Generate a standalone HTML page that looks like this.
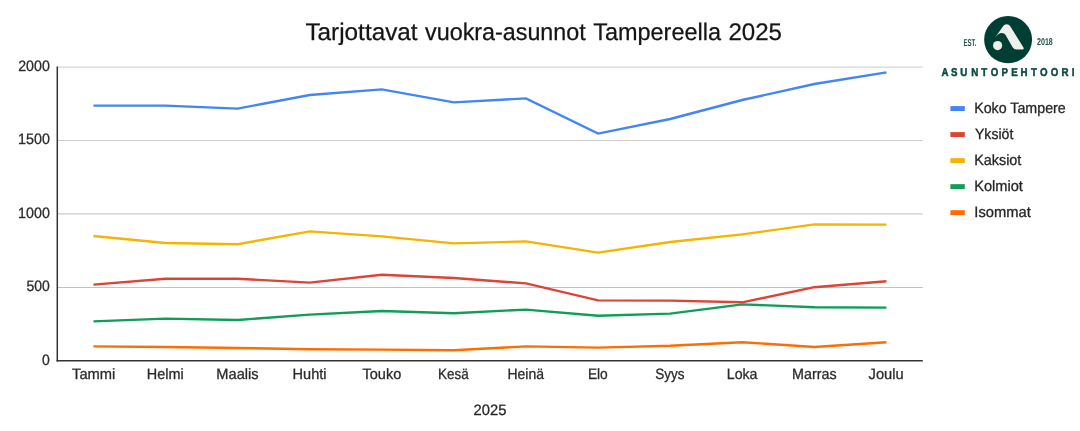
<!DOCTYPE html>
<html lang="fi">
<head>
<meta charset="utf-8">
<title>Tarjottavat vuokra-asunnot Tampereella 2025</title>
<style>
html,body{margin:0;padding:0;background:#fff;}
body{width:1080px;height:431px;overflow:hidden;}
svg{display:block;}
text{font-family:"Liberation Sans",sans-serif;text-rendering:geometricPrecision;}
</style>
</head>
<body>
<svg width="1080" height="431" viewBox="0 0 1080 431">
<rect x="0" y="0" width="1080" height="431" fill="#ffffff"/>
<g stroke="#cccccc" stroke-width="1.2">
<line x1="57.4" y1="67.05" x2="922.8" y2="67.05" stroke="#d6d6d6"/>
<line x1="57.4" y1="140.50" x2="922.8" y2="140.50"/>
<line x1="57.4" y1="213.90" x2="922.8" y2="213.90"/>
<line x1="57.4" y1="287.5" x2="922.8" y2="287.5" stroke="#c2c2c2" stroke-width="1"/>
</g>
<g fill="none" stroke-width="2.4" stroke-linejoin="miter">
<polyline stroke="#4285f4" points="93.45,105.60 165.54,105.60 237.63,108.60 309.72,95.00 381.81,89.40 453.90,102.40 526.00,98.40 598.09,133.60 670.18,119.00 742.27,100.00 814.36,84.00 886.45,72.40"/>
<polyline stroke="#db4437" points="93.45,284.60 165.54,278.80 237.63,278.80 309.72,282.60 381.81,274.80 453.90,278.00 526.00,283.40 598.09,300.40 670.18,300.60 742.27,302.30 814.36,287.20 886.45,281.20"/>
<polyline stroke="#f4b400" points="93.45,236.00 165.54,243.00 237.63,244.20 309.72,231.40 381.81,236.40 453.90,243.40 526.00,241.40 598.09,252.60 670.18,242.00 742.27,234.40 814.36,224.40 886.45,224.60"/>
<polyline stroke="#0f9d58" points="93.45,321.40 165.54,318.60 237.63,320.00 309.72,314.60 381.81,311.00 453.90,313.20 526.00,309.60 598.09,315.80 670.18,313.60 742.27,304.40 814.36,307.20 886.45,307.60"/>
<polyline stroke="#ff6d00" points="93.45,346.40 165.54,347.00 237.63,348.00 309.72,349.20 381.81,349.60 453.90,350.20 526.00,346.40 598.09,347.60 670.18,345.80 742.27,342.20 814.36,347.00 886.45,342.20"/>
</g>
<g stroke="#333333" stroke-width="1.5">
<line x1="57.30" y1="66.50" x2="57.30" y2="361.50"/>
<line x1="56.55" y1="360.75" x2="922.80" y2="360.75"/>
</g>
<text transform="translate(305.46 39.60) scale(1.0124 1)" font-size="24.0" font-weight="normal" fill="#151515" stroke="#151515" stroke-width="0.25">Tarjottavat</text>
<text transform="translate(425.00 39.60) scale(0.9726 1)" font-size="24.0" font-weight="normal" fill="#151515" stroke="#151515" stroke-width="0.25">vuokra-</text>
<text transform="translate(502.79 39.60) scale(0.9704 1)" font-size="24.0" font-weight="normal" fill="#151515" stroke="#151515" stroke-width="0.25">asunnot</text>
<text transform="translate(593.17 39.60) scale(0.9778 1)" font-size="24.0" font-weight="normal" fill="#151515" stroke="#151515" stroke-width="0.25">Tampereella</text>
<text transform="translate(728.40 39.60) scale(1.0039 1)" font-size="24.0" font-weight="normal" fill="#151515" stroke="#151515" stroke-width="0.25">2025</text>
<text transform="translate(18.17 71.00) scale(0.9495 1)" font-size="15.0" font-weight="normal" fill="#2b2b2b" stroke="#2b2b2b" stroke-width="0.3">2000</text>
<text transform="translate(18.05 143.80) scale(0.9531 1)" font-size="15.0" font-weight="normal" fill="#2b2b2b" stroke="#2b2b2b" stroke-width="0.3">1500</text>
<text transform="translate(18.05 217.70) scale(0.9531 1)" font-size="15.0" font-weight="normal" fill="#2b2b2b" stroke="#2b2b2b" stroke-width="0.3">1000</text>
<text transform="translate(26.53 291.40) scale(0.9310 1)" font-size="15.0" font-weight="normal" fill="#2b2b2b" stroke="#2b2b2b" stroke-width="0.3">500</text>
<text transform="translate(42.03 364.80) scale(0.9333 1)" font-size="15.0" font-weight="normal" fill="#2b2b2b" stroke="#2b2b2b" stroke-width="0.3">0</text>
<text transform="translate(72.04 378.90) scale(0.9799 1)" font-size="15.0" font-weight="normal" fill="#2b2b2b" stroke="#2b2b2b" stroke-width="0.3">Tammi</text>
<text transform="translate(146.84 378.90) scale(0.9616 1)" font-size="15.0" font-weight="normal" fill="#2b2b2b" stroke="#2b2b2b" stroke-width="0.3">Helmi</text>
<text transform="translate(216.33 378.90) scale(0.9750 1)" font-size="15.0" font-weight="normal" fill="#2b2b2b" stroke="#2b2b2b" stroke-width="0.3">Maalis</text>
<text transform="translate(292.53 378.90) scale(0.9709 1)" font-size="15.0" font-weight="normal" fill="#2b2b2b" stroke="#2b2b2b" stroke-width="0.3">Huhti</text>
<text transform="translate(362.54 378.90) scale(0.9674 1)" font-size="15.0" font-weight="normal" fill="#2b2b2b" stroke="#2b2b2b" stroke-width="0.3">Touko</text>
<text transform="translate(438.05 378.90) scale(0.8985 1)" font-size="15.0" font-weight="normal" fill="#2b2b2b" stroke="#2b2b2b" stroke-width="0.3">Kesä</text>
<text transform="translate(507.42 378.90) scale(0.9326 1)" font-size="15.0" font-weight="normal" fill="#2b2b2b" stroke="#2b2b2b" stroke-width="0.3">Heinä</text>
<text transform="translate(587.88 378.90) scale(0.9174 1)" font-size="15.0" font-weight="normal" fill="#2b2b2b" stroke="#2b2b2b" stroke-width="0.3">Elo</text>
<text transform="translate(655.25 378.90) scale(0.9032 1)" font-size="15.0" font-weight="normal" fill="#2b2b2b" stroke="#2b2b2b" stroke-width="0.3">Syys</text>
<text transform="translate(726.76 378.90) scale(0.9442 1)" font-size="15.0" font-weight="normal" fill="#2b2b2b" stroke="#2b2b2b" stroke-width="0.3">Loka</text>
<text transform="translate(792.05 378.90) scale(0.9540 1)" font-size="15.0" font-weight="normal" fill="#2b2b2b" stroke="#2b2b2b" stroke-width="0.3">Marras</text>
<text transform="translate(868.60 378.90) scale(0.9786 1)" font-size="15.0" font-weight="normal" fill="#2b2b2b" stroke="#2b2b2b" stroke-width="0.3">Joulu</text>
<text transform="translate(473.55 415.00) scale(0.9824 1)" font-size="15.0" font-weight="normal" fill="#262626" stroke="#262626" stroke-width="0.3">2025</text>
<text transform="translate(974.15 112.50) scale(0.9495 1)" font-size="15.0" font-weight="normal" fill="#262626" stroke="#262626" stroke-width="0.3">Koko Tampere</text>
<text transform="translate(974.94 138.60) scale(0.9393 1)" font-size="15.0" font-weight="normal" fill="#262626" stroke="#262626" stroke-width="0.3">Yksiöt</text>
<text transform="translate(974.14 164.60) scale(0.9600 1)" font-size="15.0" font-weight="normal" fill="#262626" stroke="#262626" stroke-width="0.3">Kaksiot</text>
<text transform="translate(974.13 190.70) scale(0.9745 1)" font-size="15.0" font-weight="normal" fill="#262626" stroke="#262626" stroke-width="0.3">Kolmiot</text>
<text transform="translate(974.35 216.60) scale(0.9817 1)" font-size="15.0" font-weight="normal" fill="#262626" stroke="#262626" stroke-width="0.3">Isommat</text>
<rect x="950.4" y="106.10" width="14.4" height="4.9" fill="#4285f4"/>
<rect x="950.4" y="132.12" width="14.4" height="4.9" fill="#db4437"/>
<rect x="950.4" y="158.14" width="14.4" height="4.9" fill="#f4b400"/>
<rect x="950.4" y="184.16" width="14.4" height="4.9" fill="#0f9d58"/>
<rect x="950.4" y="210.18" width="14.4" height="4.9" fill="#ff6d00"/>
<g id="logo" text-rendering="geometricPrecision">
<ellipse cx="1008.1" cy="39.65" rx="23.95" ry="23.7" fill="#003d33"/>
<path d="M994.2 38.6 L1003.0 25.85 A4.3 4.3 0 0 1 1010.25 25.95 L1023.3 47.0 Q1024.6 49.2 1022.3 49.3 L1016.5 49.3 Q1014.0 49.3 1012.6 47.0 L1005.7 35.0 C1004.3 32.5 1001.0 31.8 998.3 33.9 Q996.3 35.5 994.2 38.6 Z" fill="#efefeb" transform="translate(0 0.3)"/>
<circle cx="997.60" cy="45.55" r="4.6" fill="#efefeb"/>
<text x="963.4" y="45.8" font-size="9.9" font-weight="bold" fill="#1f5248" textLength="12.8" lengthAdjust="spacingAndGlyphs">EST.</text>
<text x="1037" y="44.7" font-size="9.9" font-weight="bold" fill="#1f5248" textLength="15.8" lengthAdjust="spacingAndGlyphs">2018</text>
<text transform="scale(0.86 1)" x="1098.79 1109.65 1120.70 1133.37 1144.53 1156.40 1168.26 1179.53 1190.58 1202.33 1213.60 1226.28 1238.49 1247.79" y="76" text-anchor="middle" font-size="11.3" font-weight="bold" fill="#0b4a3f" stroke="#0b4a3f" stroke-width="0.5">ASUNTOPEHTOORI</text>
</g>
</svg>
</body>
</html>
